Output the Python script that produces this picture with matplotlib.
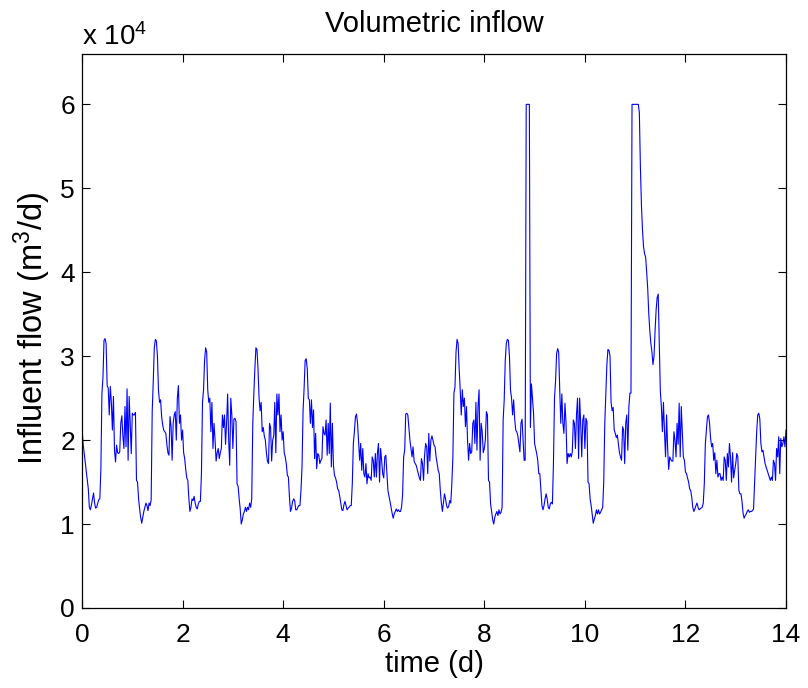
import numpy as np
import matplotlib
matplotlib.use("Agg")
import matplotlib.pyplot as plt

plt.rcParams['font.family'] = ['Liberation Sans', 'DejaVu Sans']
plt.rcParams['mathtext.fontset'] = 'custom'
plt.rcParams['mathtext.rm'] = 'Liberation Sans'
plt.rcParams['mathtext.it'] = 'Liberation Sans'

# Influent flow, units of 1e4 m3/d, sampled every 30 min (48 samples per day)
day00 = [2.14,1.96,1.85,1.75,1.64,1.52,1.42,1.20,1.17,1.23,1.30,1.37,1.25,1.19,1.20,1.25,1.29,1.30,1.65,2.55,2.75,3.19,3.21,3.15,
         2.65,2.62,2.30,2.64,2.45,2.12,2.52,1.88,1.74,1.94,1.85,1.84,1.86,2.20,2.29,2.05,1.90,2.40,1.92,2.61,1.76,2.52,2.20,1.84]
day01 = [2.32,2.30,2.30,2.33,1.52,1.50,1.30,1.18,1.08,1.01,1.08,1.15,1.20,1.25,1.22,1.16,1.25,1.22,1.29,2.34,2.70,3.10,3.20,3.18,
         3.00,2.59,2.45,2.48,2.28,2.18,2.12,2.10,2.08,1.95,1.85,1.82,2.28,2.16,1.76,2.20,2.30,2.34,2.00,2.50,2.65,2.20,2.30,2.00]
day02 = [2.12,1.85,1.78,1.65,1.55,1.52,1.30,1.15,1.20,1.30,1.28,1.33,1.25,1.20,1.18,1.24,1.27,1.27,1.60,2.45,2.60,2.95,3.10,3.05,
         2.60,2.45,2.50,2.10,2.45,1.90,2.20,2.00,1.75,1.85,1.90,1.78,1.85,1.90,2.30,2.15,2.30,1.95,2.20,2.55,2.00,1.70,2.50,2.30]
day03 = [1.90,2.25,2.26,2.22,1.48,1.45,1.30,1.18,1.00,1.05,1.12,1.15,1.20,1.15,1.20,1.17,1.25,1.20,1.30,2.20,2.55,2.85,3.10,3.08,
         2.85,2.50,2.35,2.45,2.10,2.15,2.05,2.00,1.85,1.75,1.72,2.20,2.15,1.75,2.00,2.05,2.45,1.85,2.55,2.30,2.55,2.10,2.30,2.00]
day04 = [2.10,1.85,1.80,1.72,1.58,1.56,1.32,1.15,1.19,1.27,1.30,1.28,1.17,1.17,1.20,1.22,1.22,1.40,1.68,2.35,2.62,2.95,2.97,2.85,
         2.50,2.48,2.20,2.48,2.15,2.36,1.78,2.08,1.66,1.84,1.82,1.72,1.76,1.78,2.16,2.08,2.06,2.24,1.82,2.20,1.84,2.44,1.68,2.20]
day05 = [1.70,1.58,1.55,1.50,1.42,1.40,1.33,1.25,1.17,1.16,1.23,1.27,1.22,1.17,1.19,1.20,1.22,1.22,1.48,1.96,2.10,2.28,2.31,2.20,
         1.98,1.76,1.96,1.64,1.90,1.60,1.56,1.72,1.48,1.60,1.55,1.56,1.52,1.80,1.76,1.56,1.84,1.56,1.85,1.96,1.50,1.90,1.76,1.60]
day06 = [1.55,1.80,1.82,1.60,1.40,1.33,1.27,1.20,1.13,1.07,1.12,1.15,1.18,1.15,1.17,1.15,1.15,1.20,1.35,1.80,1.88,2.31,2.32,2.30,
         2.15,2.00,1.90,1.80,1.92,1.75,1.72,1.70,1.65,1.60,1.55,1.52,1.78,1.72,1.52,1.82,1.96,1.92,1.60,2.08,1.75,2.00,2.05,2.00]
day07 = [1.94,1.92,1.80,1.72,1.64,1.60,1.40,1.25,1.15,1.25,1.36,1.30,1.22,1.19,1.21,1.28,1.25,1.48,1.80,2.56,2.63,3.05,3.20,3.15,
         2.85,2.60,2.30,2.60,2.40,2.50,2.16,2.40,2.00,1.76,1.96,1.84,1.86,2.20,2.24,1.96,2.45,1.88,2.40,2.60,1.76,2.20,2.10,1.85]
day08 = [1.90,2.00,2.34,2.30,1.52,1.50,1.24,1.15,1.05,1.00,1.08,1.12,1.15,1.10,1.17,1.12,1.14,1.20,2.24,2.48,2.95,3.15,3.20,3.19,
         3.00,2.60,2.50,2.30,2.48,2.25,2.12,2.10,2.05,1.95,1.86,2.20,2.25,2.00,1.76,1.76,6.00,6.00,6.00,6.00,2.15,2.67,2.50,2.32]
day09 = [1.96,1.90,1.84,1.76,1.60,1.60,1.40,1.22,1.17,1.22,1.30,1.36,1.30,1.20,1.18,1.24,1.26,1.24,1.72,2.50,2.70,3.03,3.09,3.05,
         2.60,2.20,2.55,2.20,2.08,2.44,2.20,1.72,1.84,1.80,1.84,1.80,1.86,2.24,2.20,1.90,2.30,2.50,1.78,2.50,2.20,1.80,2.24,2.30]
day10 = [1.90,2.26,2.22,1.50,1.48,1.30,1.22,1.12,1.01,1.06,1.10,1.17,1.12,1.17,1.12,1.14,1.17,1.20,1.50,2.20,2.55,2.90,3.08,3.07,
         3.00,2.45,2.35,2.39,2.12,2.08,2.03,2.06,1.96,1.85,1.80,1.76,2.16,2.12,1.72,2.20,2.30,1.88,2.40,2.56,2.56,6.00,6.00,6.00]
day11 = [6.00,6.00,6.00,6.00,5.90,5.25,4.80,4.50,4.30,4.22,4.18,4.00,3.80,3.50,3.30,3.15,3.05,2.90,3.00,3.30,3.55,3.70,3.74,3.15,
         2.59,2.40,2.10,2.45,2.10,1.80,2.30,1.90,1.65,1.80,1.77,1.75,1.75,2.10,2.00,1.80,2.20,1.95,2.44,1.80,2.40,2.10,1.80,1.76]
day12 = [1.62,1.60,1.55,1.50,1.42,1.40,1.32,1.20,1.15,1.18,1.22,1.25,1.20,1.17,1.18,1.19,1.20,1.25,1.48,1.96,2.12,2.28,2.30,2.20,
         2.02,1.92,1.96,1.76,1.85,1.60,1.76,1.56,1.60,1.60,1.52,1.56,1.52,1.80,1.76,1.52,1.84,1.68,1.96,1.80,1.50,1.85,1.55,1.64]
day13 = [1.72,1.84,1.80,1.40,1.36,1.36,1.27,1.13,1.07,1.10,1.12,1.15,1.17,1.14,1.15,1.15,1.16,1.18,1.50,1.80,2.10,2.30,2.32,2.25,
         1.96,1.86,1.88,1.80,1.72,1.68,1.64,1.60,1.56,1.52,1.56,1.52,1.76,1.72,1.52,1.90,1.80,2.04,1.60,2.02,1.92,1.96,2.04,1.92]
last_value = [2.12]

days = [day00, day01, day02, day03, day04, day05, day06, day07,
        day08, day09, day10, day11, day12, day13]
flow = np.concatenate([np.array(d) for d in days] + [np.array(last_value)])
time = np.arange(len(flow)) / 48.0

x_ticks = [0, 2, 4, 6, 8, 10, 12, 14]
y_ticks = [0, 1, 2, 3, 4, 5, 6]

fig = plt.figure(figsize=(8.08, 6.88), dpi=100)
ax = fig.add_axes([0.1015, 0.1163, 0.8713, 0.8052])
ax.plot(time, flow, color=(0, 0, 1), linewidth=0.8)
ax.set_xlim(0, 14)
ax.set_ylim(0, 6.6)
ax.set_xticks(x_ticks)
ax.set_yticks(y_ticks)
ax.set_xticklabels([str(v) for v in x_ticks])
ax.set_yticklabels([str(v) for v in y_ticks])
ax.tick_params(direction='in', length=5.5, width=0.8, top=True, right=True,
               labelsize=19)
ax.tick_params(axis='y', pad=5)
ax.tick_params(axis='x', pad=10.5)
for s in ax.spines.values():
    s.set_linewidth(0.9)
ax.set_title('Volumetric inflow', fontsize=21, pad=15.5)
ax.set_xlabel('time (d)', fontsize=21)
ax.xaxis.set_label_coords(0.5, -0.076)
ax.set_ylabel('Influent flow (m$^3$/d)', fontsize=23.5)
ax.yaxis.set_label_coords(-0.041, 0.504)
ax.text(0.0, 1.0162, 'x 10$^4$', transform=ax.transAxes, fontsize=20,
        ha='left', va='baseline')
fig.savefig('out.png', dpi=100)
